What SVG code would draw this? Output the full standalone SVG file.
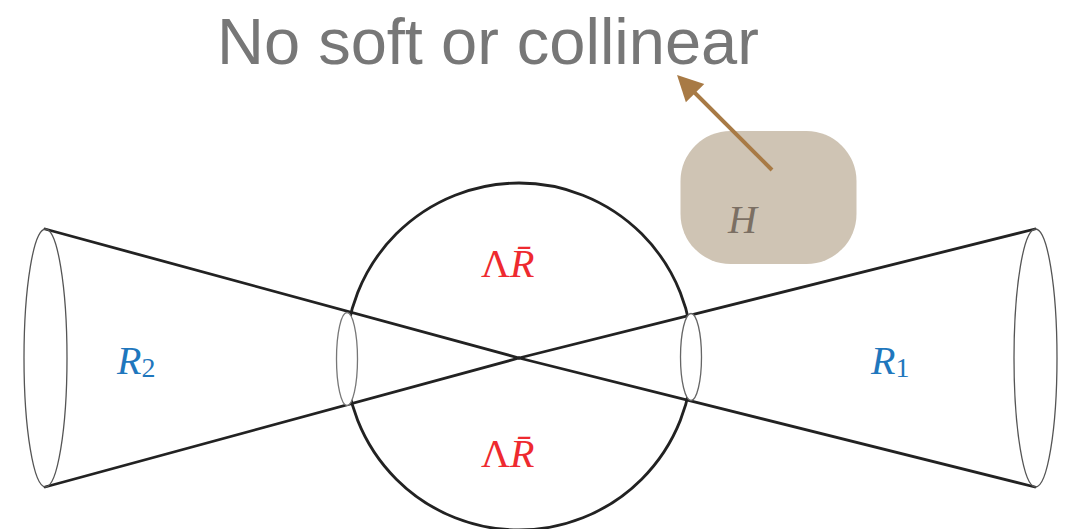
<svg xmlns="http://www.w3.org/2000/svg" width="1074" height="529" viewBox="0 0 1074 529">
<style>
.cone{stroke:#222;stroke-width:2.8;fill:none;stroke-linecap:round}
.rim{fill:none;stroke:#555;stroke-width:1.3}
.neck{fill:#fff;stroke-width:1.3}
.circ{fill:none;stroke:#222;stroke-width:2.8}
.math{font-family:"Liberation Serif","DejaVu Serif",serif;font-size:40px}
.blue{fill:#1f77bd}
.red{fill:#ee2a2f}
.title{font-family:"Liberation Sans",Arial,sans-serif;font-size:65px;fill:#777}
</style>
<defs>
<marker id="ah" markerUnits="userSpaceOnUse" markerWidth="40" markerHeight="40" viewBox="-15 -20 40 40" refX="0" refY="0" orient="auto" overflow="visible">
<path d="M15.5,0 L-10,-13 L-10,13 Z" fill="#a87a45"/>
</marker>
</defs>
<rect width="1074" height="529" fill="#fff"/>
<text class="title" x="217" y="64">No soft or collinear</text>
<g id="circle">
<circle class="circ" cx="519" cy="356.5" r="173.5"/>
</g>
<g id="connectors">
<line class="cone" x1="45" y1="229" x2="519" y2="358"/>
<line class="cone" x1="45" y1="487" x2="519" y2="358"/>
<line class="cone" x1="519" y1="358" x2="1035" y2="229"/>
<line class="cone" x1="519" y1="358" x2="1035" y2="487"/>
</g>
<g id="R2-cone">
<ellipse class="rim" cx="45.5" cy="358" rx="21.5" ry="129" stroke="#999"/>
<ellipse class="neck" cx="347" cy="359" rx="10.5" ry="46.5" stroke="#777"/>
<text class="math blue" x="117" y="374"><tspan font-style="italic">R</tspan><tspan font-size="28" dy="3">2</tspan></text>
</g>
<g id="R1-cone">
<ellipse class="rim" cx="1035.5" cy="358" rx="21.5" ry="129" stroke="#444"/>
<ellipse class="neck" cx="691" cy="357" rx="10.5" ry="43.5" stroke="#666"/>
<text class="math blue" x="871" y="374"><tspan font-style="italic">R</tspan><tspan font-size="28" dy="3">1</tspan></text>
</g>
<g id="LRbar-top">
<text class="math red" x="481" y="277">Λ<tspan font-style="italic">R̄</tspan></text>
</g>
<g id="LRbar-bottom">
<text class="math red" x="481" y="467">Λ<tspan font-style="italic">R̄</tspan></text>
</g>
<g id="H">
<rect x="680.5" y="131" width="176" height="133" rx="50" ry="50" fill="#cfc4b4"/>
<text class="math" x="728" y="233" font-style="italic" fill="#7b6f63">H</text>
</g>
<g id="arrow">
<line x1="772" y1="170" x2="688" y2="86" stroke="#a87a45" stroke-width="4" marker-end="url(#ah)"/>
</g>
</svg>
